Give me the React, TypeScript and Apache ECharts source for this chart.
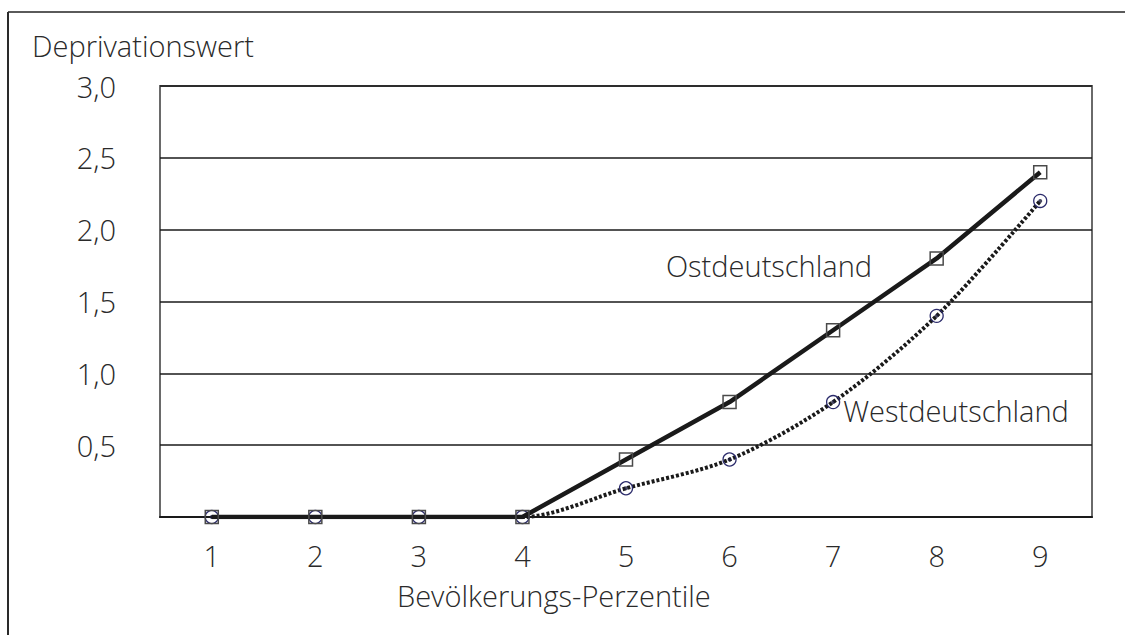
import React, { useEffect, useRef } from "react";
import * as echarts from "echarts";

const categories = ["1", "2", "3", "4", "5", "6", "7", "8", "9"];
const ostValues = [0, 0, 0, 0, 0.4, 0.8, 1.3, 1.8, 2.4];
const westValues = [0, 0, 0, 0, 0.2, 0.4, 0.8, 1.4, 2.2];
const yTicks = [0, 0.5, 1.0, 1.5, 2.0, 2.5, 3.0];
const yAxisTitle = "Deprivationswert";
const xAxisTitle = "Bevölkerungs-Perzentile";
const ostLabel = "Ostdeutschland";
const westLabel = "Westdeutschland";

const FONT = "'Open Sans', 'Noto Sans', sans-serif";
const FS = 29;
const TEXT = "#2a2a2a";

export default function App() {
  const ref = useRef<HTMLDivElement>(null);
  useEffect(() => {
    if (!ref.current) return;
    const chart = echarts.init(ref.current, null, { renderer: "svg" });
    chart.setOption({
      animation: false,
      backgroundColor: "#fff",
      textStyle: { fontFamily: FONT },
      grid: {
        left: 160,
        top: 86,
        right: 33,
        bottom: 118,
        show: true,
        borderColor: "#6a6a6a",
        borderWidth: 2,
      },
      xAxis: {
        type: "category",
        data: categories,
        boundaryGap: true,
        axisTick: { show: false },
        axisLine: { lineStyle: { color: "#1a1a1a", width: 2 } },
        axisLabel: {
          color: TEXT,
          fontSize: FS,
          fontWeight: 300,
          fontFamily: FONT,
          margin: 24,
        },
        splitLine: { show: false },
      },
      yAxis: {
        type: "value",
        min: yTicks[0],
        max: yTicks[yTicks.length - 1],
        interval: 0.5,
        axisLine: { show: false },
        axisTick: { show: false },
        axisLabel: {
          color: TEXT,
          fontSize: FS,
          fontWeight: 300,
          fontFamily: FONT,
          margin: 44,
          padding: [12, 0, 0, 0],
          formatter: (v: number) =>
            v === 0 ? "" : v.toFixed(1).replace(".", ","),
        },
        splitLine: { show: true, lineStyle: { color: "#1a1a1a", width: 1.5 } },
      },
      graphic: [
        {
          type: "line",
          shape: { x1: 8, y1: 12, x2: 1125, y2: 12 },
          style: { stroke: "#5a5a5a", lineWidth: 2 },
          silent: true,
        },
        {
          type: "line",
          shape: { x1: 8, y1: 12, x2: 8, y2: 635 },
          style: { stroke: "#2a2a2a", lineWidth: 2 },
          silent: true,
        },
        {
          type: "text",
          x: 32,
          y: 45,
          style: {
            text: yAxisTitle,
            fontSize: FS,
            fontWeight: 300,
            fontFamily: FONT,
            fill: TEXT,
            verticalAlign: "middle",
          },
        },
        {
          type: "text",
          x: 397,
          y: 595,
          style: {
            text: xAxisTitle,
            fontSize: FS,
            fontWeight: 300,
            fontFamily: FONT,
            fill: TEXT,
            align: "left",
            verticalAlign: "middle",
          },
        },
        {
          type: "text",
          x: 769,
          y: 265,
          style: {
            text: ostLabel,
            fontSize: FS,
            fontWeight: 300,
            fontFamily: FONT,
            fill: TEXT,
            align: "center",
            verticalAlign: "middle",
          },
        },
        {
          type: "text",
          x: 956,
          y: 410,
          style: {
            text: westLabel,
            fontSize: FS,
            fontWeight: 300,
            fontFamily: FONT,
            fill: TEXT,
            align: "center",
            verticalAlign: "middle",
          },
        },
      ],
      series: [
        {
          name: westLabel,
          type: "line",
          data: westValues,
          smooth: 0.3,
          symbol: "circle",
          symbolSize: 13,
          lineStyle: { color: "#1a1a1a", width: 4, type: [3, 2] },
          itemStyle: {
            color: "rgba(0,0,0,0)",
            borderColor: "#2b2b6b",
            borderWidth: 1.3,
          },
          z: 3,
        },
        {
          name: westLabel + " Punkt",
          type: "scatter",
          data: westValues,
          symbol: "circle",
          symbolSize: 4,
          itemStyle: { color: "#1a1a3a" },
          z: 4,
        },
        {
          name: ostLabel,
          type: "line",
          data: ostValues,
          smooth: false,
          symbol: "rect",
          symbolSize: 13,
          lineStyle: { color: "#1a1a1a", width: 4.5 },
          itemStyle: {
            color: "rgba(0,0,0,0)",
            borderColor: "#4a4a4a",
            borderWidth: 1.5,
          },
          z: 5,
        },
      ],
    });
    return () => chart.dispose();
  }, []);
  return (
    <div
      ref={ref}
      style={{ position: "fixed", left: 0, top: 0, width: 1125, height: 635 }}
    />
  );
}
